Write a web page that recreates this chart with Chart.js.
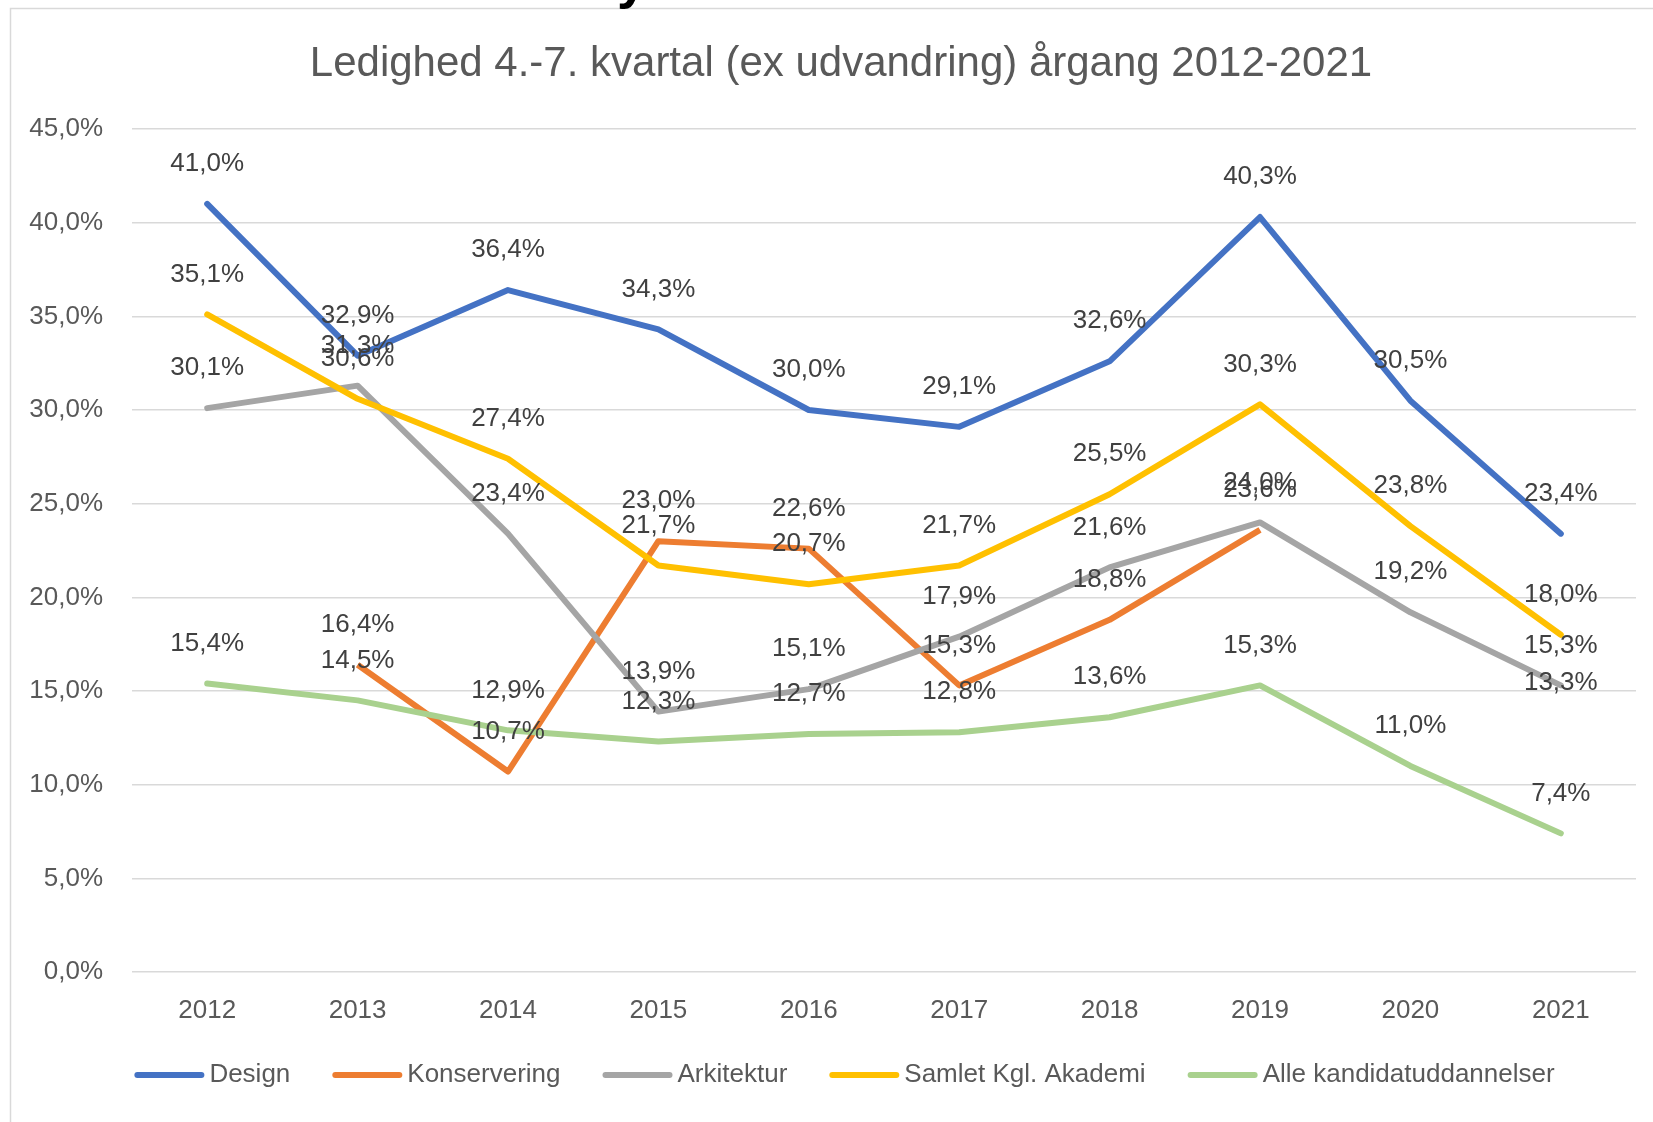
<!DOCTYPE html>
<html><head><meta charset="utf-8">
<script src="https://cdn.jsdelivr.net/npm/chart.js@4.4.0/dist/chart.umd.min.js"></script>
<style>html,body{margin:0;padding:0;background:#fff;}#wrap{position:relative;width:1653px;height:1122px;}</style>
</head><body><div id="wrap"><canvas id="c" width="1653" height="1122"></canvas></div>
<script>
const years = ['2012','2013','2014','2015','2016','2017','2018','2019','2020','2021'];
const design = [41.0,32.9,36.4,34.3,30.0,29.1,32.6,40.3,30.5,23.4];
const konservering = [null,16.4,10.7,23.0,22.6,15.3,18.8,23.6,null,13.3];
const arkitektur = [30.1,31.3,23.4,13.9,15.1,17.9,21.6,24.0,19.2,15.3];
const samlet = [35.1,30.6,27.4,21.7,20.7,21.7,25.5,30.3,23.8,18.0];
const alle = [15.4,14.5,12.9,12.3,12.7,12.8,13.6,15.3,11.0,7.4];
const seriesNames = ['Design','Konservering','Arkitektur','Samlet Kgl. Akademi','Alle kandidatuddannelser'];
const seriesColors = ['#4472C4','#ED7D31','#A5A5A5','#FFC000','#A9D18E'];
const yTickLabels = ['0,0%','5,0%','10,0%','15,0%','20,0%','25,0%','30,0%','35,0%','40,0%','45,0%'];
const titleText = 'Ledighed 4.-7. kvartal (ex udvandring) årgang 2012-2021';

const FONT = '"Liberation Sans", Arial, sans-serif';
const seriesValues = [design, konservering, arkitektur, samlet, alle];
const fmt = v => v.toFixed(1).replace('.', ',') + '%';

const decor = {
  id: 'decor',
  beforeDraw(chart) {
    const ctx = chart.ctx;
    ctx.save();
    ctx.fillStyle = '#fff';
    ctx.fillRect(0, 0, chart.width, chart.height);
    ctx.strokeStyle = '#D9D9D9';
    ctx.lineWidth = 1.5;
    ctx.strokeRect(10.5, 8.5, 1800, 1300);
    // cut-off glyph above frame
    ctx.fillStyle = '#000';
    ctx.font = 'bold 54px ' + FONT;
    ctx.textAlign = 'center';
    ctx.textBaseline = 'alphabetic';
    ctx.fillText('y', 632, -2);
    // title
    ctx.fillStyle = '#595959';
    ctx.font = '42px ' + FONT;
    ctx.textBaseline = 'middle';
    ctx.fillText(titleText, 841, 64);
    ctx.restore();
  },
  afterDatasetsDraw(chart) {
    const ctx = chart.ctx;
    ctx.save();
    ctx.font = '26px ' + FONT;
    ctx.fillStyle = '#404040';
    ctx.textAlign = 'center';
    ctx.textBaseline = 'middle';
    chart.data.datasets.forEach((ds, di) => {
      const meta = chart.getDatasetMeta(di);
      meta.data.forEach((pt, i) => {
        const v = ds.data[i];
        if (v === null || v === undefined) return;
        ctx.fillText(fmt(v), pt.x, pt.y - 40);
      });
    });
    // legend
    ctx.font = '26px ' + FONT;
    ctx.textAlign = 'left';
    const boxW = 70, gap = 5, itemGap = 42;
    const widths = seriesNames.map(n => boxW + gap + ctx.measureText(n).width);
    const total = widths.reduce((a, b) => a + b, 0) + itemGap * (widths.length - 1);
    let x = 844.5 - total / 2;
    const y = 1075;
    seriesNames.forEach((n, i) => {
      ctx.strokeStyle = seriesColors[i];
      ctx.lineWidth = 6;
      ctx.lineCap = 'round';
      ctx.beginPath();
      ctx.moveTo(x + 3, y);
      ctx.lineTo(x + boxW - 3, y);
      ctx.stroke();
      ctx.fillStyle = '#595959';
      ctx.fillText(n, x + boxW + gap, y);
      x += widths[i] + itemGap;
    });
    ctx.restore();
  }
};

new Chart(document.getElementById('c'), {
  type: 'line',
  data: {
    labels: years,
    datasets: seriesValues.map((vals, i) => ({
      label: seriesNames[i],
      data: vals,
      borderColor: seriesColors[i],
      backgroundColor: seriesColors[i],
      borderWidth: 6,
      pointRadius: 0,
      pointHoverRadius: 0,
      tension: 0,
      spanGaps: false,
      borderJoinStyle: 'round',
      borderCapStyle: i === 1 ? 'butt' : 'round',
      order: seriesValues.length - i
    }))
  },
  options: {
    responsive: false,
    animation: false,
    events: [],
    layout: { padding: { left: 0, right: 17, top: 129, bottom: 0 } },
    plugins: { legend: { display: false }, title: { display: false }, tooltip: { enabled: false } },
    scales: {
      x: {
        offset: true,
        grid: { display: false, drawTicks: false },
        border: { display: false },
        ticks: { color: '#595959', font: { family: FONT, size: 26 }, padding: 23, maxRotation: 0 },
        afterFit(s) { s.height = 150; }
      },
      y: {
        min: 0, max: 45,
        grid: { color: '#D9D9D9', lineWidth: 1.5, drawTicks: false },
        border: { display: false },
        ticks: {
          stepSize: 5,
          color: '#595959',
          font: { family: FONT, size: 26 },
          padding: 29,
          callback: (v, idx) => yTickLabels[idx]
        },
        afterFit(s) { s.width = 132; }
      }
    }
  },
  plugins: [decor]
});
</script></body></html>
